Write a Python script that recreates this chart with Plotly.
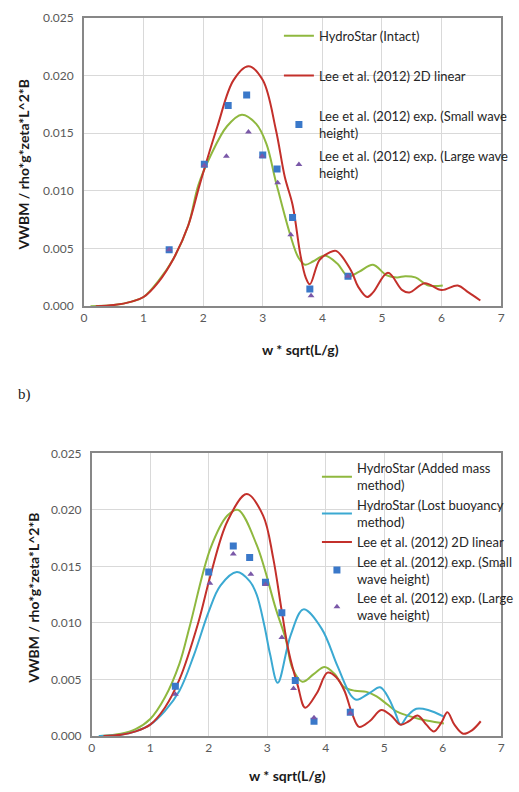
import plotly.graph_objects as go

W, H = 519, 792

# ---------------- Top chart (a) ----------------
top_hs_x = [0.11, 0.5, 0.8, 1.0, 1.25, 1.5, 1.75, 1.92, 2.12, 2.4, 2.65, 2.89, 3.06, 3.22, 3.46, 3.6, 3.71, 3.85, 4.04, 4.25, 4.43, 4.62, 4.85, 5.07, 5.25, 5.39, 5.56, 5.78, 6.02]
top_hs_y = [0.0, 0.0001, 0.0004, 0.0008, 0.0022, 0.0041, 0.0070, 0.0105, 0.0130, 0.0156, 0.0166, 0.0158, 0.0141, 0.0108, 0.0062, 0.0042, 0.0036, 0.0039, 0.0044, 0.0037, 0.0026, 0.0030, 0.0036, 0.0027, 0.0025, 0.0026, 0.0025, 0.0018, 0.0018]

top_lee_x = [0.2, 0.5, 0.8, 1.0, 1.25, 1.5, 1.75, 1.94, 2.24, 2.51, 2.76, 3.0, 3.22, 3.37, 3.5, 3.63, 3.72, 3.79, 3.95, 4.1, 4.23, 4.48, 4.6, 4.75, 4.85, 5.1, 5.34, 5.46, 5.72, 6.0, 6.27, 6.45, 6.65]
top_lee_y = [0.0, 0.0001, 0.0004, 0.0008, 0.0021, 0.0041, 0.0070, 0.0105, 0.0156, 0.0196, 0.0208, 0.0196, 0.0153, 0.0112, 0.0088, 0.0045, 0.0025, 0.0019, 0.0040, 0.0046, 0.0048, 0.0031, 0.0017, 0.0008, 0.0012, 0.0029, 0.0014, 0.0012, 0.0020, 0.0014, 0.0018, 0.0012, 0.0005]

top_small_x = [1.43, 2.02, 2.42, 2.73, 3.0, 3.24, 3.50, 3.79, 4.43]
top_small_y = [0.0049, 0.0123, 0.0174, 0.0183, 0.0131, 0.0119, 0.0077, 0.0015, 0.0026]

top_large_x = [1.43, 2.02, 2.39, 2.76, 2.99, 3.25, 3.47, 3.81, 4.43]
top_large_y = [0.0049, 0.0122, 0.0130, 0.0151, 0.0130, 0.0107, 0.0062, 0.0009, 0.0026]

# ---------------- Bottom chart (b) ----------------
bot_am_x = [0.15, 0.5, 0.75, 1.0, 1.25, 1.5, 1.68, 2.03, 2.32, 2.5, 2.82, 3.15, 3.32, 3.43, 3.6, 3.8, 3.98, 4.15, 4.32, 4.5, 4.7, 4.87, 5.05, 5.2, 5.4, 5.6, 5.8, 6.02]
bot_am_y = [0.0, 0.0002, 0.0006, 0.0015, 0.0034, 0.0064, 0.0098, 0.0166, 0.0195, 0.0200, 0.0169, 0.0112, 0.0085, 0.0060, 0.0048, 0.0055, 0.0061, 0.0055, 0.0043, 0.0040, 0.0039, 0.0035, 0.0028, 0.0022, 0.0018, 0.0015, 0.0013, 0.0011]

bot_lb_x = [0.12, 0.5, 0.75, 1.0, 1.25, 1.5, 1.75, 2.0, 2.2, 2.48, 2.7, 2.82, 2.95, 3.05, 3.18, 3.4, 3.62, 3.93, 4.2, 4.43, 4.53, 4.75, 4.93, 5.08, 5.2, 5.28, 5.4, 5.55, 5.75, 6.02]
bot_lb_y = [0.0, 0.0001, 0.0004, 0.0010, 0.0022, 0.0040, 0.0072, 0.0110, 0.0133, 0.0145, 0.0137, 0.0125, 0.0098, 0.0072, 0.0047, 0.0089, 0.0112, 0.0095, 0.0062, 0.0036, 0.0032, 0.0038, 0.0043, 0.0033, 0.0019, 0.0010, 0.0018, 0.0024, 0.0023, 0.0017]

bot_lee_x = [0.2, 0.5, 0.75, 1.0, 1.25, 1.5, 1.82, 2.03, 2.32, 2.65, 2.93, 3.1, 3.25, 3.37, 3.52, 3.65, 3.85, 4.03, 4.18, 4.32, 4.45, 4.57, 4.75, 4.95, 5.12, 5.28, 5.42, 5.57, 5.72, 5.85, 5.98, 6.08, 6.2, 6.35, 6.5, 6.65]
bot_lee_y = [0.0, 0.0001, 0.0004, 0.0010, 0.0025, 0.0050, 0.0100, 0.0142, 0.0190, 0.0214, 0.0195, 0.0158, 0.0110, 0.0074, 0.0045, 0.0025, 0.0038, 0.0056, 0.0052, 0.0040, 0.0020, 0.0008, 0.0013, 0.0023, 0.0018, 0.0010, 0.0013, 0.0018, 0.0010, 0.0004, 0.0012, 0.0021, 0.0010, 0.0002, 0.0005, 0.0013]

bot_small_x = [1.43, 2.0, 2.42, 2.70, 2.97, 3.25, 3.48, 3.80, 4.42]
bot_small_y = [0.0044, 0.0145, 0.0168, 0.0158, 0.0136, 0.0109, 0.0049, 0.0013, 0.0021]

bot_large_x = [1.43, 2.02, 2.42, 2.72, 2.97, 3.25, 3.45, 3.80, 4.42]
bot_large_y = [0.0037, 0.0135, 0.0161, 0.0143, 0.0134, 0.0087, 0.0042, 0.0016, 0.0020]

x_ticks = [0, 1, 2, 3, 4, 5, 6, 7]
y_ticks = [0.000, 0.005, 0.010, 0.015, 0.020, 0.025]

GREEN = "#8fb83f"
RED = "#c3302b"
CYAN = "#3ba9d2"
SQ = "#3a78c9"
TRI = "#7a58a8"
FONT = "Lato"

fig = go.Figure()

def line(x, y, name, color, xa, ya, legend, group):
    fig.add_trace(go.Scatter(x=x, y=y, mode="lines", name=name,
                             line=dict(color=color, width=2, shape="spline", smoothing=1.0),
                             xaxis=xa, yaxis=ya, legend=legend, legendgroup=group))

def pts(x, y, name, color, symbol, xa, ya, legend, group, size=7):
    fig.add_trace(go.Scatter(x=x, y=y, mode="markers", name=name,
                             marker=dict(color=color, symbol=symbol, size=size),
                             xaxis=xa, yaxis=ya, legend=legend, legendgroup=group))

line(top_hs_x, top_hs_y, "HydroStar (Intact)", GREEN, "x", "y", "legend", "a1")
line(top_lee_x, top_lee_y, "Lee et al. (2012) 2D linear", RED, "x", "y", "legend", "a2")
pts(top_small_x, top_small_y, "Lee et al. (2012) exp. (Small wave<br>height)", SQ, "square", "x", "y", "legend2", "a3", 7)
pts(top_large_x, top_large_y, "Lee et al. (2012) exp. (Large wave<br>height)", TRI, "triangle-up", "x", "y", "legend2", "a4", 6)

line(bot_am_x, bot_am_y, "HydroStar (Added mass<br>method)", GREEN, "x2", "y2", "legend3", "b1")
line(bot_lb_x, bot_lb_y, "HydroStar (Lost buoyancy<br>method)", CYAN, "x2", "y2", "legend3", "b1")
line(bot_lee_x, bot_lee_y, "Lee et al. (2012) 2D linear", RED, "x2", "y2", "legend3", "b1")
pts(bot_small_x, bot_small_y, "Lee et al. (2012) exp. (Small<br>wave height)", SQ, "square", "x2", "y2", "legend4", "b2", 7)
pts(bot_large_x, bot_large_y, "Lee et al. (2012) exp. (Large<br>wave height)", TRI, "triangle-up", "x2", "y2", "legend4", "b2", 6)

axis_common = dict(showgrid=True, gridcolor="#d9d9d9", gridwidth=1, zeroline=False,
                   showline=True, linecolor="#878787", linewidth=1.5, mirror=True,
                   ticks="", tickfont=dict(family=FONT, size=12, color="#595959"))

def px_x(p):
    return p / W

def px_y(p):
    return 1 - p / H

LEG_FONT = dict(family=FONT, size=13, color="#262626")

fig.update_layout(
    width=W, height=H, margin=dict(l=0, r=0, t=0, b=0),
    paper_bgcolor="white", plot_bgcolor="white",
    font=dict(family=FONT, size=12, color="#222222"),
    xaxis=dict(domain=[px_x(83), px_x(511)], range=[0, 7], tickvals=x_ticks, anchor="y", **axis_common),
    yaxis=dict(domain=[px_y(304), px_y(10)], range=[0, 0.025], tickvals=y_ticks, tickformat=".3f",
               anchor="x", ticklabelstandoff=6, **axis_common),
    xaxis2=dict(domain=[px_x(91), px_x(511)], range=[0, 7], tickvals=x_ticks, anchor="y2", **axis_common),
    yaxis2=dict(domain=[px_y(742), px_y(454)], range=[0, 0.025], tickvals=y_ticks, tickformat=".3f",
                anchor="x2", ticklabelstandoff=6, **axis_common),
    legend=dict(x=px_x(283), y=px_y(13), xanchor="left", yanchor="top", bgcolor="rgba(0,0,0,0)",
                font=LEG_FONT, tracegroupgap=20),
    legend2=dict(x=px_x(283), y=px_y(95), xanchor="left", yanchor="top", bgcolor="rgba(0,0,0,0)",
                 font=LEG_FONT, tracegroupgap=3),
    legend3=dict(x=px_x(322), y=px_y(454), xanchor="left", yanchor="top", bgcolor="rgba(0,0,0,0)",
                 font=LEG_FONT, tracegroupgap=0),
    legend4=dict(x=px_x(322), y=px_y(549), xanchor="left", yanchor="top", bgcolor="rgba(0,0,0,0)",
                 font=LEG_FONT, tracegroupgap=0),
    showlegend=True,
)

title_font = dict(family=FONT, size=14, color="#1a1a1a")
annotations = [
    dict(text="<b>VWBM / rho*g*zeta*L^2*B</b>", x=px_x(22), y=px_y(160), textangle=-90, font=title_font),
    dict(text="<b>w * sqrt(L/g)</b>", x=px_x(305), y=px_y(348), font=title_font),
    dict(text="<b>VWBM / rho*g*zeta*L^2*B</b>", x=px_x(31), y=px_y(602), textangle=-90, font=title_font),
    dict(text="<b>w * sqrt(L/g)</b>", x=px_x(292), y=px_y(782), font=title_font),
    dict(text="b)", x=px_x(22), y=px_y(394), font=dict(family="Liberation Serif", size=15, color="#222222")),
]
for a in annotations:
    a.update(xref="paper", yref="paper", showarrow=False, xanchor="center", yanchor="middle")
fig.update_layout(annotations=annotations)

fig.write_html("out.html")
